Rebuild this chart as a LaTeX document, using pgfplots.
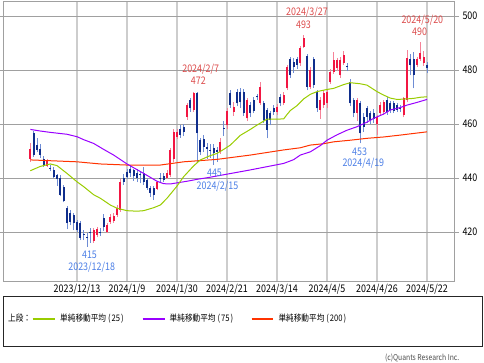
\documentclass[border=0pt]{standalone}
\usepackage{pgfplots}
\pgfplotsset{compat=1.18}
\usepackage{pgfplotstable}
\usepackage{fontspec}
\setmainfont{Noto Sans CJK JP}
\newfontfamily\lf{Noto Sans CJK JP}[FakeStretch=0.85]

\definecolor{upbody}{RGB}{242,22,66}
\definecolor{upwick}{RGB}{246,130,152}
\definecolor{dnbody}{RGB}{16,46,140}
\definecolor{dnwick}{RGB}{110,140,212}
\definecolor{smaA}{RGB}{153,204,0}
\definecolor{smaB}{RGB}{153,0,255}
\definecolor{smaC}{RGB}{255,51,0}
\definecolor{annred}{RGB}{220,76,76}
\definecolor{annblue}{RGB}{76,127,230}
\definecolor{gridh}{RGB}{160,160,160}
\definecolor{gridv}{RGB}{205,205,205}

\pgfplotstableread{
i o h l c
-14 447.0 452.8 446.0 450.6
-9 444.6 447.0 444.0 446.2
5 416.5 421.3 416.0 420.7
6 419.0 422.0 418.0 421.0
9 420.0 423.5 419.5 422.6
10 423.8 426.5 423.0 425.7
11 424.0 427.0 423.5 426.0
12 426.3 430.0 425.5 428.9
13 428.1 439.5 427.5 438.5
24 436.0 439.0 435.5 438.6
27 440.0 443.0 439.5 442.0
28 441.1 451.0 440.5 450.4
29 447.0 458.0 446.0 457.2
30 455.3 458.0 454.5 457.2
33 462.7 467.8 461.5 467.0
35 465.2 471.8 464.5 471.4
43 449.5 455.0 449.0 453.5
45 459.6 466.0 458.0 465.0
47 464.6 468.0 463.0 466.2
51 462.1 469.5 461.0 468.9
55 467.6 475.7 467.0 473.8
60 464.6 467.5 463.5 466.4
62 467.6 472.0 467.0 470.7
63 473.2 482.0 472.5 481.2
67 482.5 488.8 481.5 488.0
68 488.6 493.0 488.0 491.7
70 473.8 481.0 473.0 480.0
73 465.2 470.0 462.0 468.9
74 467.0 472.5 466.0 471.6
75 467.6 473.0 466.0 472.0
76 475.7 480.5 475.0 479.4
77 479.4 486.8 478.5 483.7
78 480.6 484.5 479.5 483.7
79 478.0 485.0 477.0 483.7
80 482.5 487.0 482.0 485.5
84 464.0 469.5 461.0 468.9
90 460.0 463.5 455.9 462.7
91 464.0 468.0 463.0 467.0
92 464.5 469.0 463.5 468.3
98 463.3 470.0 462.5 469.5
99 468.9 487.5 468.0 484.3
102 481.8 485.0 481.0 484.0
103 484.0 490.5 483.5 486.2
104 482.5 487.0 481.5 485.0
}\upT

\pgfplotstableread{
i o h l c
-13 456.8 457.5 447.8 448.5
-12 452.2 455.0 449.5 450.4
-11 450.6 452.5 447.5 448.5
-10 447.0 448.0 444.2 444.8
-8 443.8 445.0 442.5 443.4
-7 443.0 444.0 440.0 440.5
-6 441.0 441.5 437.2 439.6
-5 439.9 441.0 433.2 433.7
-4 436.8 437.5 431.0 431.6
-3 428.8 429.5 421.0 423.2
-2 426.9 428.0 422.5 423.8
-1 426.3 427.0 420.7 423.2
0 423.8 424.5 420.0 420.7
1 423.2 424.0 417.0 417.7
2 419.2 420.7 417.0 418.9
3 417.9 419.5 414.6 417.7
4 419.8 421.5 416.0 419.6
7 420.0 421.5 418.5 419.5
8 425.2 426.5 420.5 421.9
14 440.0 441.5 437.5 438.6
15 442.2 443.5 439.5 440.4
16 443.5 445.0 440.5 441.8
17 442.8 443.5 439.0 440.6
18 442.0 443.5 438.5 440.0
19 441.5 442.5 438.0 441.0
20 442.0 444.0 437.5 438.6
21 439.3 440.0 435.5 436.3
22 436.3 437.0 433.0 434.4
23 436.2 437.0 432.0 433.7
25 440.0 442.0 438.0 439.6
26 440.6 442.0 438.5 439.4
31 458.0 459.5 455.0 456.0
32 459.0 460.0 455.5 457.0
34 468.9 469.5 464.5 465.8
36 471.4 472.0 446.0 456.5
37 454.0 455.0 448.5 449.7
38 454.5 456.0 449.5 451.5
39 451.3 453.0 447.0 450.8
40 450.5 452.5 447.5 450.1
41 451.0 452.5 445.0 449.1
42 450.2 451.5 446.0 449.8
44 458.6 461.0 455.5 458.2
46 471.6 472.5 466.0 467.0
48 471.9 473.0 466.5 467.6
49 472.0 473.5 466.0 468.0
50 472.0 473.0 463.0 464.0
52 467.0 468.0 462.5 464.0
53 469.0 470.0 464.0 465.0
54 470.2 471.0 469.0 469.9
56 467.6 468.5 460.5 461.5
57 465.2 466.0 454.7 457.8
58 464.0 465.0 459.5 461.5
59 466.0 467.0 463.5 464.5
61 470.0 471.0 466.5 467.6
64 483.9 485.0 477.0 478.1
65 483.0 484.5 479.0 481.0
66 483.9 485.0 480.5 481.8
69 485.2 486.0 472.5 473.8
71 483.9 485.0 473.5 474.4
72 471.9 472.5 464.5 465.8
81 481.4 482.5 479.5 481.0
82 475.7 476.5 466.5 467.6
83 468.9 469.5 462.5 464.0
85 467.6 468.5 452.8 456.5
86 462.7 464.0 457.0 459.0
87 465.8 466.5 460.5 462.7
88 464.0 465.0 460.0 461.5
89 464.0 465.5 460.5 462.0
93 468.9 470.0 463.5 464.5
94 467.6 468.5 464.0 465.2
95 467.6 468.5 464.0 465.0
96 467.0 467.8 464.5 465.2
97 466.0 467.0 464.5 465.7
100 484.0 486.0 478.0 481.8
101 484.0 486.5 473.2 478.0
105 481.8 483.0 478.8 480.6
}\dnT

\pgfplotstableread{
i v
-14 442.7
-11 444.3
-8 445.2
-6 444.6
-3 441.7
0 438.6
2 436.8
5 433.8
7 432.5
10 430.0
12 428.8
15 427.9
18 427.7
20 427.9
23 429.0
25 430.0
27 432.5
30 437.0
32 440.5
35 444.5
37 446.7
40 448.3
42 449.1
44 450.6
46 452.2
49 455.8
52 458.0
54 459.6
57 461.8
60 461.8
62 461.9
63 463.5
64 465.0
66 466.8
68 469.3
70 471.0
72 472.0
75 472.8
77 473.2
80 474.6
82 475.3
85 474.9
87 474.4
90 472.0
92 470.7
94 469.6
96 469.1
99 469.3
101 469.5
103 469.9
105 470.1
}\smaAT

\pgfplotstableread{
i v
-14 458.0
-11 457.4
-8 456.9
-3 456.2
0 455.3
2 454.2
5 452.8
8 450.6
11 448.5
15 445.2
20 441.7
24 438.8
26 437.9
28 437.8
30 438.2
33 438.8
36 439.5
40 440.3
44 441.2
48 442.1
52 443.0
57 444.2
62 445.4
65 446.8
67 448.5
70 449.7
73 452.0
75 454.0
78 456.0
81 457.7
84 459.0
87 460.7
89 462.1
92 463.7
94 465.2
97 466.1
99 467.0
102 468.0
105 469.1
}\smaBT

\pgfplotstableread{
i v
-14 446.7
-8 446.4
0 446.0
7 445.2
15 444.8
25 444.8
32 446.0
42 446.9
52 448.5
62 450.4
67 451.2
70 452.2
74 452.7
77 453.4
82 454.0
87 454.7
92 455.2
97 455.9
101 456.5
105 457.1
}\smaCT

\begin{document}
\begin{tikzpicture}
\path[use as bounding box] (0pt,0pt) rectangle (484pt,-362pt);
\begin{axis}[
  at={(3pt,-281pt)}, anchor=south west,
  scale only axis, width=451pt, height=280pt,
  xmin=-22.2, xmax=113.1, ymin=401.85, ymax=505.56,
  axis line style={draw=gridh, line width=0.8pt},
  xtick={0,15,30,45,60,75,90,105},
  xticklabels={2023/12/13,2024/1/9,2024/1/30,2024/2/21,2024/3/14,2024/4/5,2024/4/26,2024/5/22},
  ytick={420,440,460,480,500},
  yticklabel pos=right,
  xmajorgrids, ymajorgrids,
  major x grid style={draw=gridv, line width=1.3pt},
  major y grid style={draw=gridh, line width=0.8pt},
  major x tick style={draw=none},
  major y tick style={draw=gridh, line width=0.8pt},
  ytick align=outside, major tick length=5pt,
  /pgf/number format/assume math mode=true,
  /pgf/number format/1000 sep={},
  tick label style={font=\lf\fontsize{10.5}{11}\selectfont, text=black},
]
% wicks
\addplot[forget plot, draw=none, mark=none, error bars/.cd, y dir=plus, y explicit, error mark=none,
  error bar style={draw=upwick, line width=0.9pt}]
  table[x=i, y=l, y error plus expr=\thisrow{h}-\thisrow{l}] {\upT};
\addplot[forget plot, draw=none, mark=none, error bars/.cd, y dir=plus, y explicit, error mark=none,
  error bar style={draw=dnwick, line width=0.9pt}]
  table[x=i, y=l, y error plus expr=\thisrow{h}-\thisrow{l}] {\dnT};
% bodies
\addplot[forget plot, draw=none, mark=none, error bars/.cd, y dir=plus, y explicit, error mark=none,
  error bar style={draw=upbody, line width=2.3pt, line cap=butt}]
  table[x=i, y expr={min(\thisrow{o},\thisrow{c})}, y error plus expr={max(abs(\thisrow{c}-\thisrow{o}),0.35)}] {\upT};
\addplot[forget plot, draw=none, mark=none, error bars/.cd, y dir=plus, y explicit, error mark=none,
  error bar style={draw=dnbody, line width=2.3pt, line cap=butt}]
  table[x=i, y expr={min(\thisrow{o},\thisrow{c})}, y error plus expr={max(abs(\thisrow{c}-\thisrow{o}),0.35)}] {\dnT};
% moving averages
\addplot[draw=smaC, line width=1pt, mark=none] table[x=i, y=v] {\smaCT};
\addplot[draw=smaB, line width=1pt, mark=none] table[x=i, y=v] {\smaBT};
\addplot[draw=smaA, line width=1pt, mark=none] table[x=i, y=v] {\smaAT};
% annotations
\begin{scope}[every node/.style={inner sep=0pt, anchor=base, font=\lf\fontsize{10.5}{11}\selectfont}]
\node[text=annred] at (axis cs:69,500.37) {2024/3/27};
\node[text=annred] at (axis cs:67.95,495.56) {493};
\node[text=annred] at (axis cs:37.1,478.9) {2024/2/7};
\node[text=annred] at (axis cs:36.4,474.8) {472};
\node[text=annred] at (axis cs:103.6,497.4) {2024/5/20};
\node[text=annred] at (axis cs:102.8,492.85) {490};
\node[text=annblue] at (axis cs:41.25,440.4) {445};
\node[text=annblue] at (axis cs:42.15,435.6) {2024/2/15};
\node[text=annblue] at (axis cs:84.8,448.5) {453};
\node[text=annblue] at (axis cs:85.9,444.1) {2024/4/19};
\node[text=annblue] at (axis cs:3.75,410.3) {415};
\node[text=annblue] at (axis cs:4.4,405.7) {2023/12/18};
\end{scope}
\end{axis}
% legend box
\draw[draw=black!85, line width=0.8pt] (3pt,-296pt) rectangle (482pt,-346.5pt);
\draw[draw=smaA, line width=1.1pt] (32.7pt,-319pt) -- (55pt,-319pt);
\draw[draw=smaB, line width=1.1pt] (142.7pt,-319pt) -- (165pt,-319pt);
\draw[draw=smaC, line width=1.1pt] (251.7pt,-319pt) -- (273.3pt,-319pt);
\begin{scope}[every node/.style={inner sep=0pt, anchor=west, font=\lf\fontsize{9}{10}\selectfont}]
\node at (8pt,-318.5pt) {上段：};
\node at (60pt,-318.5pt) {単純移動平均\hspace{2pt}(\hspace{1pt}25\hspace{1pt})};
\node at (169.5pt,-318.5pt) {単純移動平均\hspace{2pt}(\hspace{1pt}75\hspace{1pt})};
\node at (278.3pt,-318.5pt) {単純移動平均\hspace{2pt}(\hspace{1pt}200\hspace{1pt})};
\end{scope}
\node[inner sep=0pt, anchor=east, text=black!70, font=\lf\fontsize{8}{9}\selectfont] at (459.5pt,-358pt) {(c)Quants Research Inc.};
\end{tikzpicture}
\end{document}
